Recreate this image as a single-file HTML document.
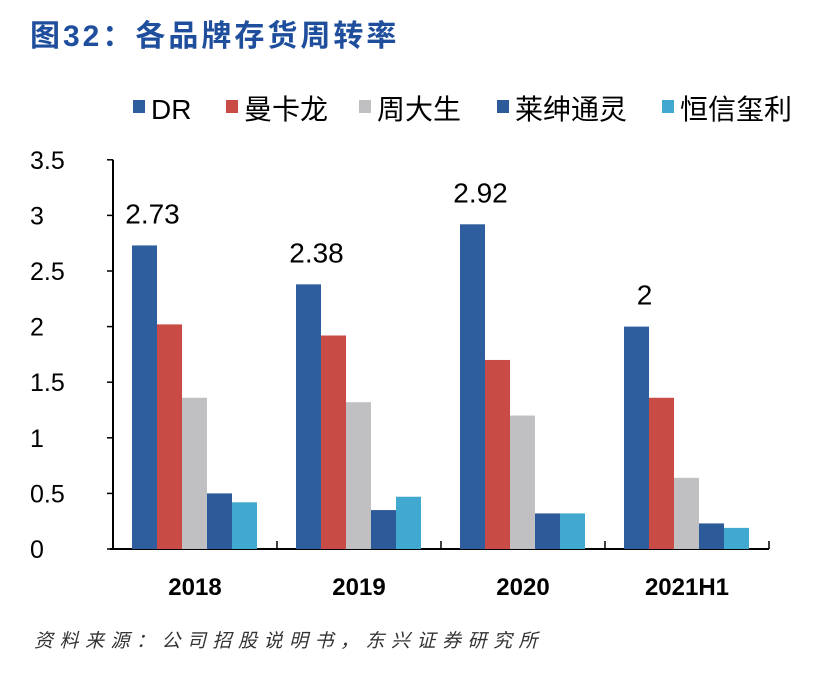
<!DOCTYPE html>
<html><head><meta charset="utf-8"><style>
body{margin:0;background:#fff;width:817px;height:671px;overflow:hidden;font-family:"Liberation Sans","Noto Sans CJK SC",sans-serif}
</style></head><body>
<svg width="817" height="671" xmlns="http://www.w3.org/2000/svg" font-family="Liberation Sans, Noto Sans CJK SC, sans-serif">
<text x="30" y="46" font-size="30" font-weight="bold" letter-spacing="3" fill="#1f4f9c">图32：各品牌存货周转率</text>
<g id="legend"></g>
<g id="axes"></g>
<g id="bars"></g>
<text x="34" y="647" font-size="19" font-style="italic" letter-spacing="6.5" fill="#333">资料来源：公司招股说明书，东兴证券研究所</text>
</svg>
<script>
const categories=["2018","2019","2020","2021H1"];
const seriesNames=["DR","曼卡龙","周大生","莱绅通灵","恒信玺利"];
const seriesColors=["#2f5e9e","#c94b45","#c0c0c2","#2d5a98","#41a9cf"];
const drValues=[2.73,2.38,2.92,2.0];
const mankalongValues=[2.02,1.92,1.70,1.36];
const zhoudashengValues=[1.36,1.32,1.20,0.64];
const laishenValues=[0.50,0.35,0.32,0.23];
const hengxinValues=[0.42,0.47,0.32,0.19];
const series=[drValues,mankalongValues,zhoudashengValues,laishenValues,hengxinValues];
const yTicks=[0,0.5,1,1.5,2,2.5,3,3.5];
const yTickLabels=["0","0.5","1","1.5","2","2.5","3","3.5"];
const drLabels=["2.73","2.38","2.92","2"];
const NS="http://www.w3.org/2000/svg";
const x0=113,groupW=164,base=549,unit=111.2,barW=25,off=19;
const y=v=>base-v*unit;
const gx=i=>x0+i*groupW;
function mk(tag,attrs,parent,text){const e=document.createElementNS(NS,tag);for(const k in attrs)e.setAttribute(k,attrs[k]);if(text!==undefined)e.textContent=text;parent.appendChild(e);return e;}
const axes=document.getElementById('axes'),bars=document.getElementById('bars'),legend=document.getElementById('legend');
let l=mk('line',{x1:x0,y1:y(3.5),x2:x0,y2:base,stroke:'#000','stroke-width':2},axes);


l=mk('line',{x1:x0-3,y1:base,x2:gx(4),y2:base,stroke:'#000','stroke-width':2},axes);


yTicks.forEach((t,i)=>{
 const tk=mk('line',{x1:x0-6,y1:y(t),x2:x0,y2:y(t),stroke:'#000','stroke-width':1.5},axes);
 
 
 const tl=mk('text',{x:30,y:y(t)+9,'font-size':25,fill:'#000'},axes,yTickLabels[i]);
 
 
});
for(let i=1;i<=4;i++){
 const tk=mk('line',{x1:gx(i),y1:base,x2:gx(i),y2:base-8,stroke:'#000','stroke-width':1.5},axes);
 
 
}
categories.forEach((c,i)=>{
 const t=mk('text',{x:gx(i)+groupW/2,y:595,'font-size':24,'font-weight':'bold','text-anchor':'middle',fill:'#000'},axes,c);
 
 
 series.forEach((s,j)=>{
  const r=mk('rect',{x:gx(i)+off+j*barW,y:y(s[i]),width:barW,height:s[i]*unit,fill:seriesColors[j]},bars);
  
  
 });
 const dl=mk('text',{x:gx(i)+off+barW/2+8,y:y(drValues[i])-22,'font-size':28,'text-anchor':'middle',fill:'#000'},bars,drLabels[i]);
 
 
});
const legX=[133,226,359,497,662];
seriesNames.forEach((n,j)=>{
 const g=mk('g',{},legend);
 
 
 mk('rect',{x:legX[j],y:100,width:12,height:13,fill:seriesColors[j]},g);
 mk('text',{x:legX[j]+18,y:119,'font-size':28,fill:'#000'},g,n);
});
</script>
</body></html>
